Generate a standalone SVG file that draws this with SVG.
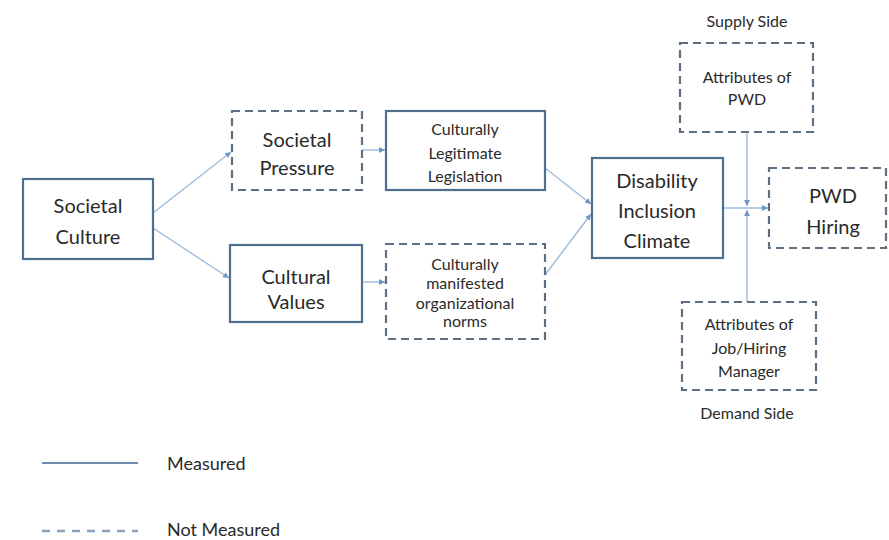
<svg xmlns="http://www.w3.org/2000/svg" width="889" height="540" viewBox="0 0 889 540">
<defs>
<style>
.solid{fill:#fff;stroke:#4f6f8f;stroke-width:2.2}
.dash{fill:#fff;stroke:#5d6f80;stroke-width:2.2;stroke-dasharray:8,5}
.c{fill:none;stroke:#9dbbdb;stroke-width:1.4}
text{font-family:Lato,"Liberation Sans",sans-serif;fill:#2a2a2a;text-anchor:middle;dominant-baseline:central}
.big{font-size:20px}
.sm{font-size:16px}
.lg{font-size:18px;text-anchor:start}
</style>
<marker id="ah" markerWidth="7" markerHeight="7" refX="6" refY="3.5" orient="auto" markerUnits="userSpaceOnUse">
<path d="M0,0.5 L6,3.5 L0,6.5 z" fill="#6f98c4"/>
</marker>
</defs>
<rect width="889" height="540" fill="#fff"/>
<g id="connectors">
<line class="c" x1="153" y1="213" x2="231" y2="152" marker-end="url(#ah)"/>
<line class="c" x1="153" y1="228" x2="229" y2="278" marker-end="url(#ah)"/>
<line class="c" x1="362" y1="150" x2="385" y2="150" marker-end="url(#ah)"/>
<line class="c" x1="362" y1="282" x2="385" y2="282" marker-end="url(#ah)"/>
<line class="c" x1="545" y1="168" x2="591" y2="204" marker-end="url(#ah)"/>
<line class="c" x1="545" y1="275" x2="591" y2="214" marker-end="url(#ah)"/>
<line class="c" x1="723" y1="208" x2="768" y2="208" marker-end="url(#ah)"/>
<line class="c" x1="747" y1="132" x2="747" y2="206" marker-end="url(#ah)"/>
<line class="c" x1="747" y1="302" x2="747" y2="210" marker-end="url(#ah)"/>
<line x1="42" y1="463" x2="138" y2="463" stroke="#6f8fb0" stroke-width="2"/>
<line x1="42" y1="531" x2="138" y2="531" stroke="#8aa3bd" stroke-width="2.5" stroke-dasharray="8,7"/>
</g>
<g id="societal-culture">
<rect class="solid" x="23" y="179" width="130" height="80"/>
<text class="big" x="88" y="205">Societal</text>
<text class="big" x="88" y="236">Culture</text>
</g>
<g id="societal-pressure">
<rect class="dash" x="232" y="111" width="130" height="79"/>
<text class="big" x="297" y="139">Societal</text>
<text class="big" x="297" y="167">Pressure</text>
</g>
<g id="legitimate-legislation">
<rect class="solid" x="386" y="111" width="159" height="79"/>
<text class="sm" x="465" y="128">Culturally</text>
<text class="sm" x="465" y="152">Legitimate</text>
<text class="sm" x="465" y="175">Legislation</text>
</g>
<g id="cultural-values">
<rect class="solid" x="230" y="245" width="132" height="77"/>
<text class="big" x="296" y="276">Cultural</text>
<text class="big" x="296" y="301">Values</text>
</g>
<g id="org-norms">
<rect class="dash" x="386" y="244" width="159" height="95"/>
<text class="sm" x="465" y="263">Culturally</text>
<text class="sm" x="465" y="282">manifested</text>
<text class="sm" x="465" y="302">organizational</text>
<text class="sm" x="465" y="320">norms</text>
</g>
<g id="disability-climate">
<rect class="solid" x="592" y="158" width="131" height="100"/>
<text class="big" x="657" y="180">Disability</text>
<text class="big" x="657" y="210">Inclusion</text>
<text class="big" x="657" y="240">Climate</text>
</g>
<g id="pwd-hiring">
<rect class="dash" x="769" y="168" width="117" height="80"/>
<text class="big" x="833" y="195">PWD</text>
<text class="big" x="833" y="226">Hiring</text>
</g>
<g id="attr-pwd">
<text class="sm" x="747" y="20">Supply Side</text>
<rect class="dash" x="680" y="43" width="133" height="89"/>
<text class="sm" x="747" y="76">Attributes of</text>
<text class="sm" x="747" y="98">PWD</text>
</g>
<g id="attr-job">
<rect class="dash" x="682" y="302" width="134" height="88"/>
<text class="sm" x="749" y="323">Attributes of</text>
<text class="sm" x="749" y="347">Job/Hiring</text>
<text class="sm" x="749" y="370">Manager</text>
<text class="sm" x="747" y="412">Demand Side</text>
</g>
<g id="legend">
<text class="lg" x="167" y="463">Measured</text>
<text class="lg" x="167" y="529">Not Measured</text>
</g>
</svg>
